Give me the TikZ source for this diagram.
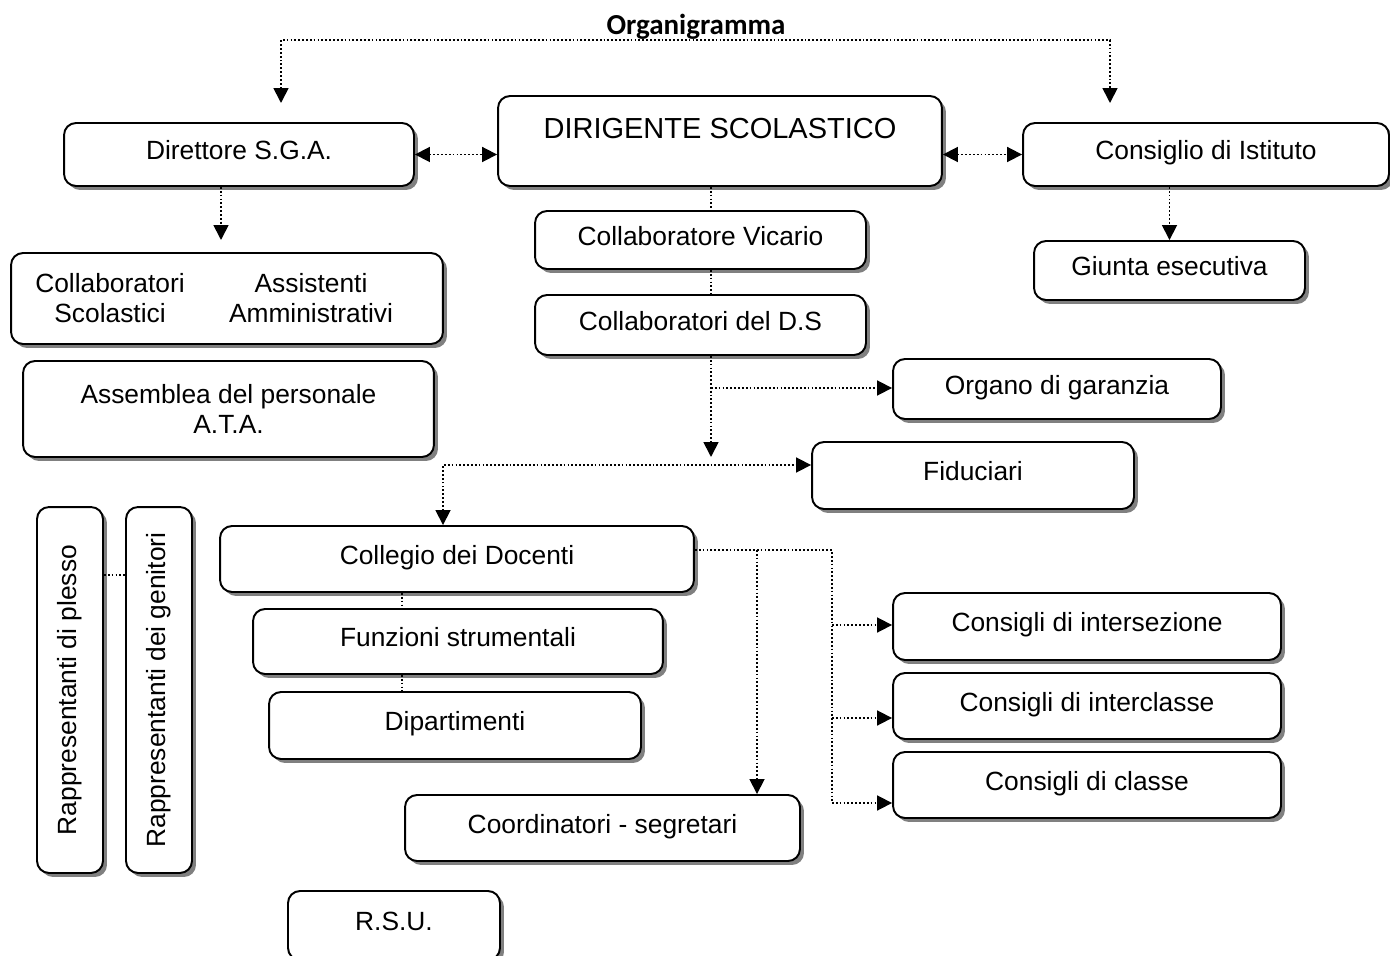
\documentclass[tikz,border=0pt]{standalone}
\usepackage{fontspec}
\usepackage{graphicx}
\setmainfont{Liberation Sans}
\newfontfamily\titlefont{Carlito}
\usetikzlibrary{arrows.meta,shadows}

\tikzset{
  card/.style = {draw, line width=1.1pt, rounded corners=0.24cm, fill=white,
    align=center, inner sep=2pt, font=\fontsize{15}{17}\selectfont,
    drop shadow={shadow xshift=0.08cm, shadow yshift=-0.08cm, fill=black!50, opacity=1}},
  tcard/.style = {card, text depth=0.17cm},
  link/.style = {line width=1pt, dash pattern=on 1pt off 1.2pt,
    >={Triangle[length=0.3cm, width=0.3cm]}},
}

\begin{document}
\begin{tikzpicture}[x=0.02cm, y=-0.02cm]
        \useasboundingbox (0,0) rectangle (1390,956);

        \node [font=\titlefont\bfseries\fontsize{16.5}{18}\selectfont] (title) at (696,27) {Organigramma};

        % top row
        \node [tcard, minimum width=7cm, minimum height=1.26cm] (dsga) at (239,154.5) {Direttore S.G.A.};
        \node [card, minimum width=8.88cm, minimum height=1.8cm, text depth=0.5cm,
               font=\fontsize{16.5}{18}\selectfont] (ds) at (720,141) {DIRIGENTE SCOLASTICO};
        \node [tcard, minimum width=7.32cm, minimum height=1.26cm] (ist) at (1206,154.5) {Consiglio di Istituto};

        % personale A.T.A.
        \node [card, minimum width=8.64cm, minimum height=1.82cm] (staff) at (227,298.5) {};
        \node [align=center, font=\fontsize{15}{17}\selectfont] (collab) at (110,298) {Collaboratori\\Scolastici};
        \node [align=center, font=\fontsize{15}{17}\selectfont] (assist) at (311,298) {Assistenti\\Amministrativi};
        \node [card, minimum width=8.22cm, minimum height=1.92cm] (assemblea) at (228.5,409) {Assemblea del personale\\A.T.A.};

        % centre column
        \node [tcard, minimum width=6.62cm, minimum height=1.16cm] (vicario) at (700.5,240) {Collaboratore Vicario};
        \node [tcard, minimum width=6.62cm, minimum height=1.2cm] (collds) at (700.5,325) {Collaboratori del D.S};
        \node [tcard, minimum width=5.42cm, minimum height=1.18cm] (giunta) at (1169.5,270.5) {Giunta esecutiva};
        \node [tcard, minimum width=6.56cm, minimum height=1.2cm] (organo) at (1057,389) {Organo di garanzia};
        \node [tcard, minimum width=6.44cm, minimum height=1.34cm] (fiduciari) at (973,475.5) {Fiduciari};

        % docenti
        \node [tcard, minimum width=9.48cm, minimum height=1.32cm] (collegio) at (457,559) {Collegio dei Docenti};
        \node [tcard, minimum width=8.2cm, minimum height=1.3cm] (funzioni) at (458,641.5) {Funzioni strumentali};
        \node [tcard, minimum width=7.44cm, minimum height=1.34cm] (dipart) at (455,725.5) {Dipartimenti};
        \node [tcard, minimum width=7.9cm, minimum height=1.32cm] (coord) at (602.5,828) {Coordinatori - segretari};
        \node [tcard, minimum width=4.24cm, minimum height=1.38cm] (rsu) at (394,925.5) {R.S.U.};
        \node [tcard, minimum width=7.76cm, minimum height=1.34cm] (inters) at (1087,626.5) {Consigli di intersezione};
        \node [tcard, minimum width=7.76cm, minimum height=1.32cm] (intercl) at (1087,706) {Consigli di interclasse};
        \node [tcard, minimum width=7.76cm, minimum height=1.32cm] (classe) at (1087,785) {Consigli di classe};

        % rappresentanti
        \node [card, minimum width=1.32cm, minimum height=7.32cm] (plesso) at (70,690) {\rotatebox{90}{Rappresentanti di plesso}};
        \node [card, minimum width=1.32cm, minimum height=7.32cm] (genitori) at (159,690) {\rotatebox{90}{Rappresentanti dei genitori}};

        % connectors
        \coordinate (tl) at (281,103);
        \coordinate (tr) at (1110,103);
        \coordinate (tm) at (696,40);
        \draw [link, <->] (tl) |- (tm) -| (tr);
        \draw [link, <->] (dsga.east) -- (dsga.east -| ds.west);
        \draw [link, <->] (ds.east |- ist.west) -- (ist.west);

        \coordinate (s1) at (221,240);
        \draw [link, ->] (s1 |- dsga.south) -- (s1);
        \draw [link, ->] (ist.south -| giunta.north) -- (giunta.north);

        \coordinate (spine) at (711,457);
        \coordinate (br1) at (711,388);
        \draw [link] (ds.south -| spine) -- (vicario.north -| spine);
        \draw [link] (vicario.south -| spine) -- (collds.north -| spine);
        \draw [link, ->] (collds.south -| spine) -- (spine);
        \draw [link, ->] (br1) -- (br1 -| organo.west);

        \coordinate (corner) at (443,465);
        \draw [link, <->] (collegio.north -| corner) -- (corner) -- (corner -| fiduciari.west);

        \coordinate (v) at (402,600);
        \draw [link] (collegio.south -| v) -- (funzioni.north -| v);
        \draw [link] (funzioni.south -| v) -- (dipart.north -| v);

        \coordinate (c1) at (832,550);
        \coordinate (c2) at (757,550);
        \coordinate (k1) at (832,625);
        \coordinate (k2) at (832,718);
        \coordinate (k3) at (832,803);
        \draw [link] (collegio.east |- c1) -- (c1) -- (k3);
        \draw [link, ->] (k1) -- (k1 -| inters.west);
        \draw [link, ->] (k2) -- (k2 -| intercl.west);
        \draw [link, ->] (k3) -- (k3 -| classe.west);
        \draw [link, ->] (c2) -- (c2 |- coord.north);

        \coordinate (pg) at (115,575);
        \draw [link] (plesso.east |- pg) -- (genitori.west |- pg);
\end{tikzpicture}
\end{document}
